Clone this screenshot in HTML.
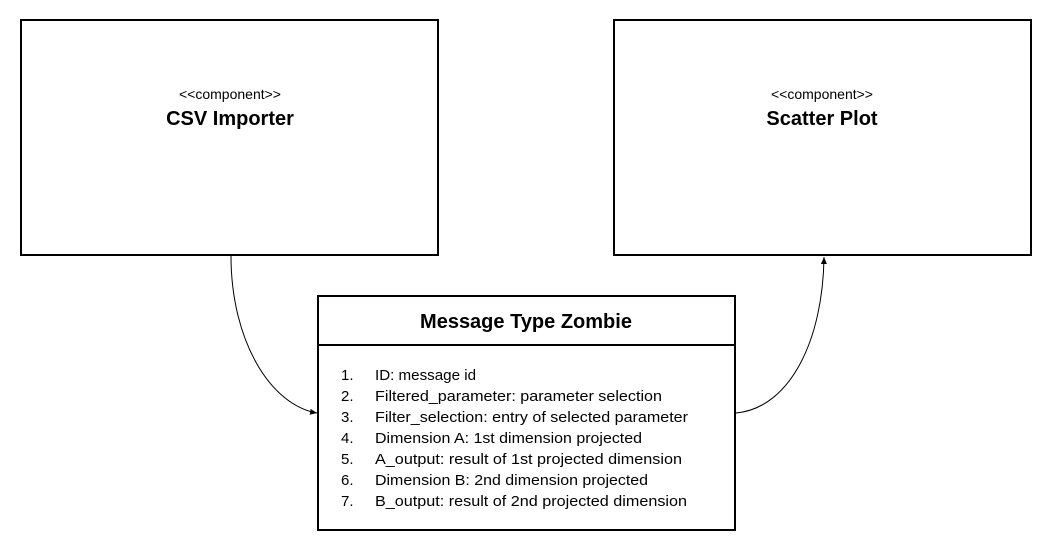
<!DOCTYPE html>
<html><head><meta charset="utf-8"><style>
html,body{margin:0;padding:0;background:#fff;}
svg{display:block;font-family:"Liberation Sans","DejaVu Sans",sans-serif;}
</style></head><body>
<svg width="1048" height="543" viewBox="0 0 1048 543" xmlns="http://www.w3.org/2000/svg">
<defs><marker id="a" markerWidth="8" markerHeight="8" refX="7" refY="4" orient="auto" markerUnits="userSpaceOnUse"><path d="M0,1 L7,4 L0,7 z" fill="#000"/></marker></defs>
<rect x="21" y="20" width="417" height="235" fill="#fff" stroke="#000" stroke-width="2"/>
<rect x="614" y="20" width="417" height="235" fill="#fff" stroke="#000" stroke-width="2"/>
<rect x="318" y="296" width="417" height="234" fill="#fff" stroke="#000" stroke-width="2"/>
<line x1="318" y1="345" x2="735" y2="345" stroke="#000" stroke-width="2"/>
<text x="230" y="99" font-size="14" text-anchor="middle">&lt;&lt;component&gt;&gt;</text>
<text x="230" y="125" font-size="20" font-weight="bold" text-anchor="middle">CSV Importer</text>
<text x="822" y="99" font-size="14" text-anchor="middle">&lt;&lt;component&gt;&gt;</text>
<text x="822" y="125" font-size="20" font-weight="bold" text-anchor="middle">Scatter Plot</text>
<text x="526" y="328" font-size="20" font-weight="bold" text-anchor="middle">Message Type Zombie</text>
<g font-size="15">
<text x="341" y="380">1.</text><text x="375" y="380" textLength="101" lengthAdjust="spacingAndGlyphs">ID: message id</text>
<text x="341" y="401">2.</text><text x="375" y="401" textLength="287" lengthAdjust="spacingAndGlyphs">Filtered_parameter: parameter selection</text>
<text x="341" y="422">3.</text><text x="375" y="422" textLength="313" lengthAdjust="spacingAndGlyphs">Filter_selection: entry of selected parameter</text>
<text x="341" y="443">4.</text><text x="375" y="443" textLength="267" lengthAdjust="spacingAndGlyphs">Dimension A: 1st dimension projected</text>
<text x="341" y="464">5.</text><text x="375" y="464" textLength="307" lengthAdjust="spacingAndGlyphs">A_output: result of 1st projected dimension</text>
<text x="341" y="485">6.</text><text x="375" y="485" textLength="273" lengthAdjust="spacingAndGlyphs">Dimension B: 2nd dimension projected</text>
<text x="341" y="506">7.</text><text x="375" y="506" textLength="312" lengthAdjust="spacingAndGlyphs">B_output: result of 2nd projected dimension</text>
</g>
<path d="M231,256 C231,340 270,405 317,413" fill="none" stroke="#000" stroke-width="1" marker-end="url(#a)"/>
<path d="M736,413 C790,408 823,340 824,257" fill="none" stroke="#000" stroke-width="1" marker-end="url(#a)"/>
</svg>
</body></html>
